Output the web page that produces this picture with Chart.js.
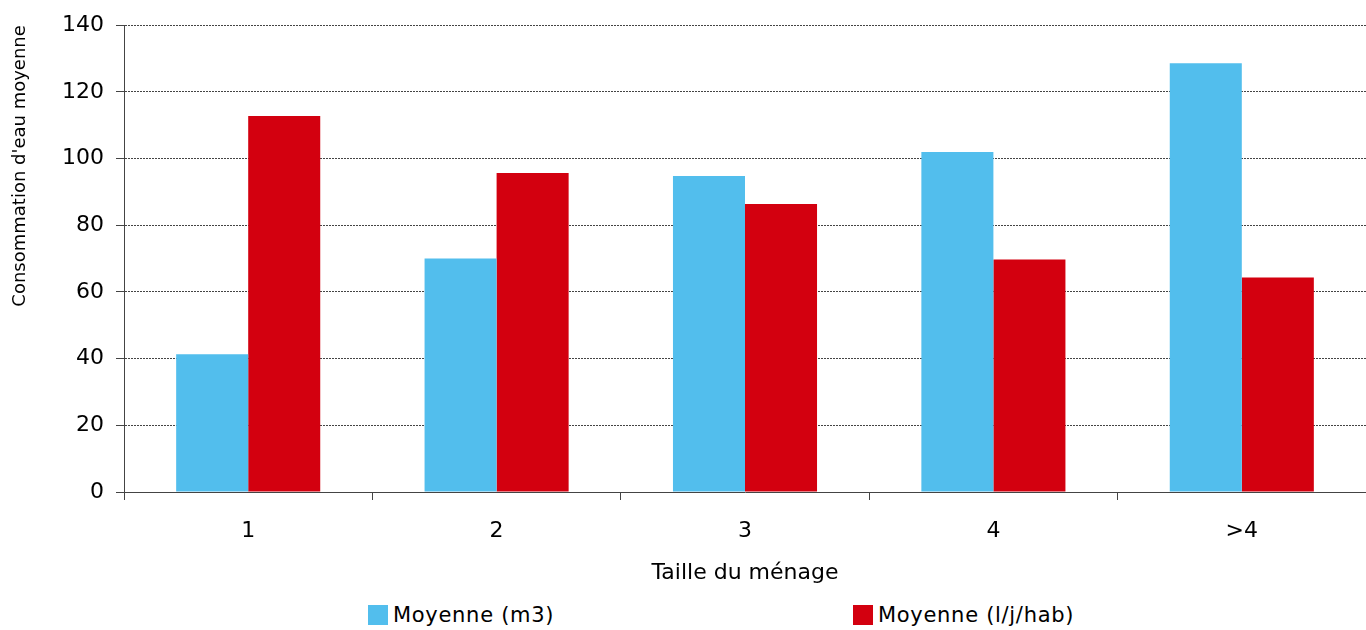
<!DOCTYPE html>
<html>
<head>
<meta charset="utf-8">
<script src="https://cdn.jsdelivr.net/npm/chart.js@4.4.0/dist/chart.umd.min.js"></script>
<style>
  html, body { margin: 0; padding: 0; background: #fff; }
  #wrap { position: relative; width: 1366px; height: 630px; }
  #box { position: absolute; left: 0; top: 0; width: 1366px; height: 596px; }
  #legend { position: absolute; left: 0; top: 603px; width: 1366px; height: 26px; }
  .item { position: absolute; top: 0; display: flex; align-items: center;
          font-family: 'DejaVu Sans'; font-size: 21px; letter-spacing: 0.7px; color: #000; }
  .item span { display: inline-block; width: 20px; height: 20px; margin-right: 5px; }
</style>
</head>
<body>
<div id="wrap">
  <div id="box"><canvas id="chart"></canvas></div>
  <div id="legend"></div>
</div>
<script>
// données
const categories = ['1', '2', '3', '4', '>4'];
const moyenneM3 = [41.3, 70.0, 94.8, 102.0, 128.6];
const moyenneLJH = [112.8, 95.7, 86.4, 69.7, 64.3];
const seriesNames = ['Moyenne (m3)', 'Moyenne (l/j/hab)'];
const yTicks = [0, 20, 40, 60, 80, 100, 120, 140];

const tickFont = { family: 'DejaVu Sans', size: 22 };

// légende en HTML (positions des deux entrées)
const htmlLegend = {
    id: 'htmlLegend',
    afterUpdate(chart) {
        const el = document.getElementById('legend');
        el.innerHTML = '';
        const lefts = [368, 853];
        chart.options.plugins.legend.labels.generateLabels(chart).forEach((item, i) => {
            const div = document.createElement('div');
            div.className = 'item';
            div.style.left = lefts[i] + 'px';
            const sw = document.createElement('span');
            sw.style.background = item.fillStyle;
            div.appendChild(sw);
            div.appendChild(document.createTextNode(item.text));
            el.appendChild(div);
        });
    }
};

const ctx = document.getElementById('chart').getContext('2d');
new Chart(ctx, {
    type: 'bar',
    data: {
        labels: categories,
        datasets: [{
            label: seriesNames[0],
            data: moyenneM3,
            backgroundColor: '#52BEED',
            borderWidth: 0
        }, {
            label: seriesNames[1],
            data: moyenneLJH,
            backgroundColor: '#D3000F',
            borderWidth: 0
        }]
    },
    options: {
        responsive: true,
        maintainAspectRatio: false,
        animation: false,
        layout: { padding: { top: 13, right: 0, bottom: 12, left: 0 } },
        datasets: {
            bar: { categoryPercentage: 0.58, barPercentage: 1.0 }
        },
        plugins: {
            tooltip: { enabled: false },
            legend: { display: false }
        },
        scales: {
            x: {
                grid: {
                    offset: true,
                    drawOnChartArea: false,
                    drawTicks: true,
                    tickLength: 8,
                    tickColor: '#444',
                    tickWidth: 1
                },
                border: { color: '#444', width: 1 },
                ticks: { color: '#000', font: { family: 'DejaVu Sans', size: 22, lineHeight: 1 }, padding: 20 },
                title: {
                    display: true,
                    text: 'Taille du ménage',
                    color: '#000',
                    font: { family: 'DejaVu Sans', size: 22, lineHeight: 1 },
                    padding: { top: 0, bottom: 0 }
                }
            },
            y: {
                min: 0,
                max: 140,
                afterBuildTicks: axis => { axis.ticks = yTicks.map(v => ({ value: v })); },
                afterFit: axis => { axis.width = 124; },
                grid: {
                    color: '#444',
                    lineWidth: 1,
                    tickLength: 8,
                    tickColor: '#444',
                    tickBorderDash: []
                },
                border: { color: '#444', width: 1, dash: [2, 1] },
                ticks: { color: '#000', font: tickFont, padding: 12 },
                title: {
                    display: true,
                    text: "Consommation d'eau moyenne",
                    color: '#000',
                    align: 'end',
                    font: { family: 'DejaVu Sans', size: 18 },
                    padding: { top: 10, bottom: 0 }
                }
            }
        }
    },
    plugins: [htmlLegend]
});
</script>
</body>
</html>
